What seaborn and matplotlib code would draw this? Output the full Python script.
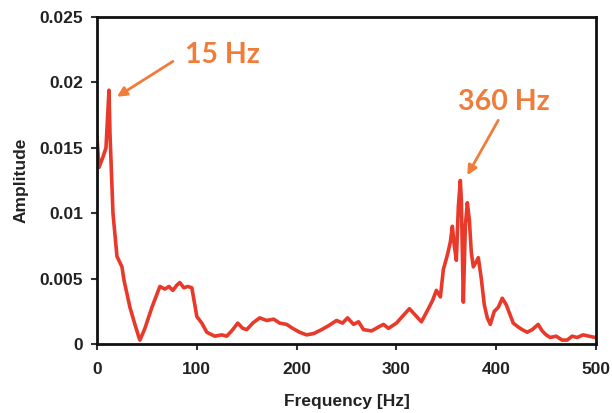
import matplotlib
matplotlib.use("Agg")
import matplotlib.pyplot as plt
import seaborn as sns
import pandas as pd

freq = [0, 2, 6, 9, 12, 13, 16, 20, 25, 27, 33, 38, 42, 43, 48, 55, 60, 63, 68, 72, 76, 80,
        83, 87, 91, 95, 98, 100, 105, 110, 118, 125, 130, 136, 141, 146, 150, 156, 163,
        170, 177, 183, 190, 196, 203, 210, 217, 225, 232, 240, 246, 251, 257, 262, 267,
        275, 282, 287, 292, 300, 307, 313, 319, 325, 332, 336, 340, 344, 347, 351, 354,
        356, 358, 360, 362, 364, 365, 367, 369, 371, 373, 375, 377, 380, 382, 385, 388,
        391, 394, 398, 402, 406, 410, 414, 417, 422, 426, 431, 436, 442, 446, 450, 454,
        460, 466, 471, 476, 481, 487, 493, 499]
amplitude = [0.0158, 0.0135, 0.0143, 0.0150, 0.0194, 0.0161, 0.0100, 0.0067, 0.0059, 0.0049,
             0.0028, 0.0015, 0.0005, 0.0003, 0.0012, 0.0028, 0.0038, 0.0044, 0.0042, 0.0044,
             0.0041, 0.0045, 0.0047, 0.0043, 0.0044, 0.0043, 0.0030, 0.0021, 0.0016, 0.0009,
             0.0006, 0.0007, 0.0006, 0.0011, 0.0016, 0.0012, 0.0011, 0.0016, 0.0020, 0.0018,
             0.0019, 0.0016, 0.0015, 0.0012, 0.0009, 0.0007, 0.0008, 0.0011, 0.0014, 0.0018,
             0.0016, 0.0020, 0.0015, 0.0017, 0.0011, 0.0010, 0.0013, 0.0015, 0.0012, 0.0016,
             0.0022, 0.0027, 0.0022, 0.0017, 0.0027, 0.0033, 0.0041, 0.0036, 0.0057, 0.0068,
             0.0078, 0.0090, 0.0075, 0.0064, 0.0105, 0.0125, 0.0110, 0.0032, 0.0090, 0.0108,
             0.0095, 0.0070, 0.0059, 0.0063, 0.0066, 0.0050, 0.0030, 0.0020, 0.0015, 0.0025,
             0.0028, 0.0035, 0.0030, 0.0022, 0.0016, 0.0013, 0.0011, 0.0009, 0.0011, 0.0015,
             0.0010, 0.0007, 0.0005, 0.0006, 0.0003, 0.0003, 0.0006, 0.0005, 0.0007, 0.0006,
             0.0005]

x_ticks = [0, 100, 200, 300, 400, 500]
y_ticks = [0, 0.005, 0.01, 0.015, 0.02, 0.025]
y_tick_labels = ["0", "0.005", "0.01", "0.015", "0.02", "0.025"]

peak_labels = ["15 Hz", "360 Hz"]
peak_points = [(20, 0.0189), (371, 0.0129)]
label_points = [(76, 0.0216), (402, 0.0171)]
text_points = [(88, 0.0215), (362, 0.0179)]

sns.set_theme(style="ticks")
plt.rcParams["font.family"] = ["Liberation Sans", "DejaVu Sans"]

df = pd.DataFrame({"Frequency": freq, "Amplitude": amplitude})

fig = plt.figure(figsize=(6.12, 4.13), dpi=100)
ax = fig.add_axes([0.1585, 0.167, 0.8155, 0.792])

sns.lineplot(data=df, x="Frequency", y="Amplitude", ax=ax, color="#e8392a",
             linewidth=2.6, estimator=None, sort=False)

ax.set_xlim(0, 500)
ax.set_ylim(0, 0.025)
ax.set_xticks(x_ticks)
ax.set_xticklabels([str(t) for t in x_ticks])
ax.set_yticks(y_ticks)
ax.set_yticklabels(y_tick_labels)

for s in ax.spines.values():
    s.set_visible(True)
    s.set_linewidth(2)
    s.set_color("#111111")

ax.tick_params(axis="both", direction="out", length=4, width=1.5, color="#333333",
               labelsize=12.5, labelcolor="#222222")
ax.tick_params(axis="x", pad=9)
ax.tick_params(axis="y", pad=6)
for lab in ax.get_xticklabels() + ax.get_yticklabels():
    lab.set_fontweight("bold")

ax.set_xlabel("Frequency [Hz]", fontsize=12.5, fontweight="bold", color="#222222", labelpad=12)
ax.set_ylabel("Amplitude", fontsize=12.5, fontweight="bold", color="#222222", labelpad=8)

orange = "#f07c3a"
for lab, pk, lp, tp in zip(peak_labels, peak_points, label_points, text_points):
    ax.annotate("", xy=pk, xytext=lp,
                arrowprops=dict(arrowstyle="-|>", color=orange, lw=2,
                                mutation_scale=14, shrinkA=0, shrinkB=0))
    ax.text(tp[0], tp[1], lab, color=orange, fontsize=20.5, family=["Lato", "DejaVu Sans"],
            fontweight="bold", ha="left", va="baseline")

fig.savefig("out.png", dpi=100)
